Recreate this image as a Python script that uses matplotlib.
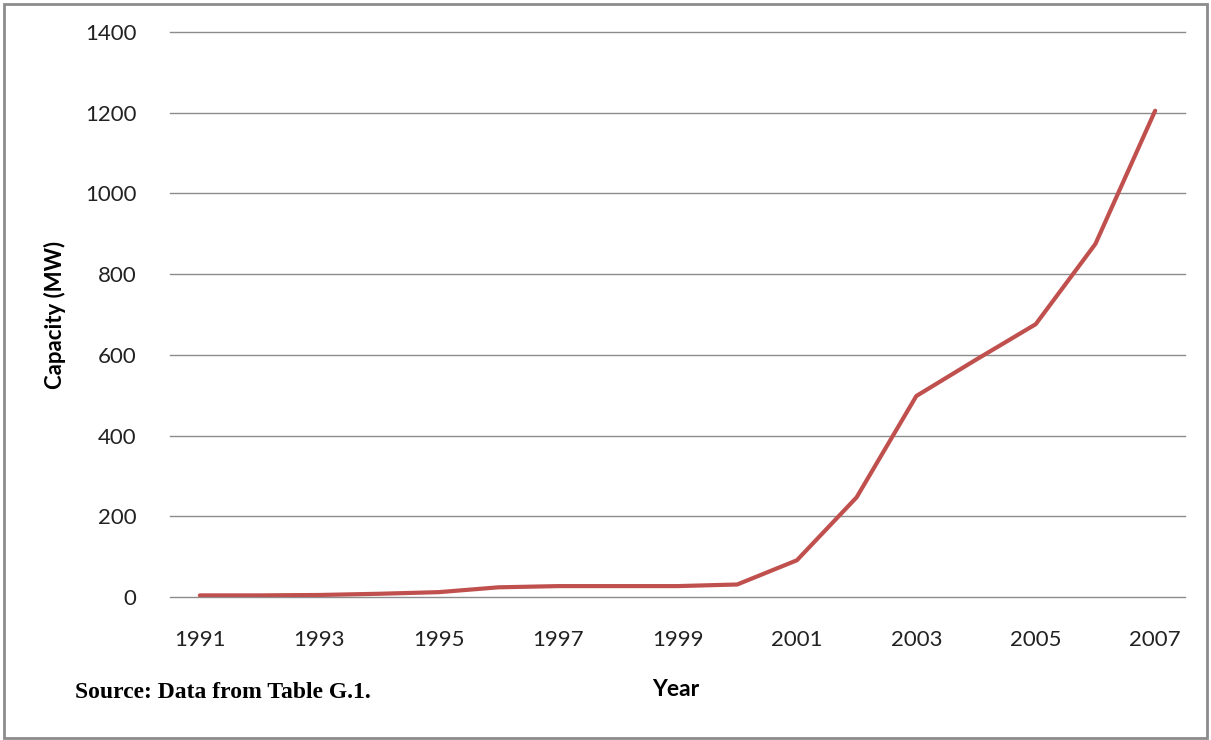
import matplotlib.pyplot as plt
from matplotlib.patches import Rectangle

# installed capacity by year
years = list(range(1991, 2008))
capacity = [4, 4, 5, 8, 12, 24, 27, 27, 27, 31, 91, 247, 498, 588, 676, 875, 1205]
x_ticks = list(range(1991, 2008, 2))
y_ticks = list(range(0, 1401, 200))

plt.rcParams['font.family'] = ['Lato', 'DejaVu Sans']

fig = plt.figure(figsize=(12.11, 7.40), dpi=100)
ax = fig.add_axes([170/1211, 1 - 597/740, 1015/1211, 565/740])

ax.plot(years, capacity, color='#C0504D', lw=3, solid_capstyle='round', solid_joinstyle='round', zorder=3)

ax.set_xlim(1990.5, 2007.5)
ax.set_ylim(0, 1400)
ax.set_xticks(x_ticks)
ax.set_yticks(y_ticks)
ax.tick_params(axis='both', length=0, labelsize=16, colors='#222222')
ax.tick_params(axis='x', pad=24)
ax.tick_params(axis='y', pad=24)
ax.grid(axis='y', color='#8C8C8C', lw=1)
for gl in ax.get_ygridlines():
    gl.set_clip_on(False)
ax.set_axisbelow(True)
for s in ax.spines.values():
    s.set_visible(False)
ax.set_ylabel('Capacity (MW)', fontsize=16, fontweight='bold', labelpad=14)

fig.text(676/1211, 1 - 690/740, 'Year', fontsize=16.5, fontweight='bold', ha='center', va='center')
fig.text(75/1211, 1 - 692/740, 'Source: Data from Table G.1.', fontsize=17, fontweight='bold',
         family='Liberation Serif', ha='left', va='center')

# thin frame round the whole figure
fig.patches.append(Rectangle((4/1211, 2/740), 1203/1211, 734/740, transform=fig.transFigure,
                             fill=False, edgecolor='#8C8C8C', lw=2))

fig.savefig('out.png', dpi=100)
